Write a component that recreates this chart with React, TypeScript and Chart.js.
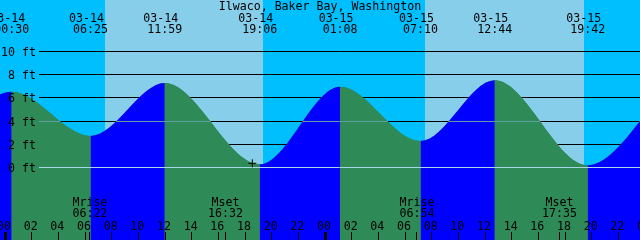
import React, { useEffect, useRef } from "react";
import { Chart, registerables } from "chart.js";
Chart.register(...registerables);

// Hours counted from 03-14 00:00
const tideHours = [-5.67, 0.5, 6.417, 11.983, 19.1, 25.133, 31.167, 36.733, 43.7, 49.75];
const tideFeet = [0.45, 6.53, 2.72, 7.28, 0.28, 6.97, 2.28, 7.52, 0.19, 6.9];

const eventHours = [0.5, 6.417, 11.983, 19.1, 25.133, 31.167, 36.733, 43.7];
const eventDates = ["03-14", "03-14", "03-14", "03-14", "03-15", "03-15", "03-15", "03-15"];
const eventTimes = ["00:30", "06:25", "11:59", "19:06", "01:08", "07:10", "12:44", "19:42"];

const sunriseHours = [7.5, 31.5];
const sunsetHours = [19.35, 43.43];

const moonHours = [6.367, 16.533, 30.9, 41.583];
const moonNames = ["Mrise", "Mset", "Mrise", "Mset"];
const moonTimes = ["06:22", "16:32", "06:54", "17:35"];

const hourTicks = [0, 2, 4, 6, 8, 10, 12, 14, 16, 18, 20, 22, 24, 26, 28, 30, 32, 34, 36, 38, 40, 42, 44, 46, 48];
const hourLabels = ["00", "02", "04", "06", "08", "10", "12", "14", "16", "18", "20", "22", "00", "02", "04", "06", "08", "10", "12", "14", "16", "18", "20", "22", "00"];
const dayStartHours = [0, 24, 48];

const feetTicks = [0, 2, 4, 6, 8, 10];
const feetLabels = ["0 ft", "2 ft", "4 ft", "6 ft", "8 ft", "10 ft"];
const datumFeet = [0, 4];
const datumColors = ["#a8d8e8", "#5f9ea0"];

const nowHour = [18.55];
const nowFeet = [0.36];

const title = "Ilwaco, Baker Bay, Washington";

const NIGHT = "#00bfff";
const DAY = "#87ceeb";
const RISE = "#0000ff";
const FALL = "#2e8b57";
const FONT = "11.6px 'DejaVu Sans Mono', monospace";

function curvePath(ctx: CanvasRenderingContext2D, pts: any[], edgeY: number) {
  ctx.beginPath();
  ctx.moveTo(pts[0].x, pts[0].y);
  for (let i = 1; i < pts.length; i++) {
    const p = pts[i - 1], c = pts[i];
    ctx.bezierCurveTo(p.cp2x, p.cp2y, c.cp1x, c.cp1y, c.x, c.y);
  }
  ctx.lineTo(pts[pts.length - 1].x, edgeY);
  ctx.lineTo(pts[0].x, edgeY);
  ctx.closePath();
}

const bgPlugin = {
  id: "bg",
  beforeDatasetsDraw(chart: any) {
    const { ctx, chartArea, scales } = chart;
    const x = scales.x, y = scales.y;
    const pts = chart.getDatasetMeta(1).data;
    ctx.save();
    ctx.fillStyle = NIGHT;
    ctx.fillRect(chartArea.left, chartArea.top, chartArea.right - chartArea.left, chartArea.bottom - chartArea.top);
    ctx.fillStyle = DAY;
    sunriseHours.forEach((h, i) => {
      const a = Math.round(x.getPixelForValue(h));
      const b = Math.round(x.getPixelForValue(sunsetHours[i]));
      ctx.fillRect(a, chartArea.top, b - a, chartArea.bottom - chartArea.top);
    });
    // base under the water, hides seams between fill segments
    ctx.save();
    curvePath(ctx, pts, chartArea.bottom + 10);
    ctx.fillStyle = FALL;
    ctx.fill();
    ctx.restore();
    // grid lines only in the sky
    ctx.save();
    curvePath(ctx, pts, chartArea.top - 10);
    ctx.clip();
    ctx.strokeStyle = "#000";
    ctx.lineWidth = 1;
    feetTicks.forEach((f) => {
      const py = Math.floor(y.getPixelForValue(f)) + 0.5;
      ctx.beginPath();
      ctx.moveTo(39, py);
      ctx.lineTo(chartArea.right, py);
      ctx.stroke();
    });
    ctx.restore();
    ctx.restore();
  },
};

const overlayPlugin = {
  id: "overlay",
  afterDatasetDraw(chart: any, args: any) {
    if (args.index !== 1) return;
    const { ctx, chartArea, scales } = chart;
    const pts = args.meta.data;
    ctx.save();
    curvePath(ctx, pts, chartArea.bottom + 10);
    ctx.clip();
    ctx.lineWidth = 1;
    datumFeet.forEach((f, i) => {
      const py = Math.floor(scales.y.getPixelForValue(f)) + 0.5;
      ctx.strokeStyle = datumColors[i];
      ctx.beginPath();
      ctx.moveTo(39, py);
      ctx.lineTo(chartArea.right, py);
      ctx.stroke();
    });
    ctx.restore();
  },
  afterDatasetsDraw(chart: any) {
    const { ctx, chartArea, scales } = chart;
    const x = scales.x, y = scales.y;
    ctx.save();
    ctx.fillStyle = "#000";
    ctx.font = FONT;
    ctx.textBaseline = "alphabetic";
    ctx.textAlign = "center";
    ctx.fillText(title, (chartArea.left + chartArea.right) / 2, 9.5);
    eventHours.forEach((h, i) => {
      const px = x.getPixelForValue(h);
      ctx.fillText(eventDates[i], px - 4, 21.5);
      ctx.fillText(eventTimes[i], px, 33.3);
    });
    moonHours.forEach((h, i) => {
      const px = x.getPixelForValue(h);
      ctx.fillText(moonNames[i], px, 205.5);
      ctx.fillText(moonTimes[i], px, 216.5);
    });
    hourTicks.forEach((h, i) => {
      const px = x.getPixelForValue(h);
      ctx.fillText(hourLabels[i], px - 1, 229.5);
    });
    ctx.textAlign = "right";
    feetTicks.forEach((f, i) => {
      const py = Math.floor(y.getPixelForValue(f)) + 0.5;
      ctx.fillText(feetLabels[i], 36, py + 4.2);
    });
    ctx.strokeStyle = "#000";
    ctx.lineWidth = 1;
    const tickH = [...hourTicks, ...moonHours];
    tickH.forEach((h) => {
      const px = Math.floor(x.getPixelForValue(h)) + 0.5;
      ctx.beginPath();
      ctx.moveTo(px, 232);
      ctx.lineTo(px, chartArea.bottom);
      ctx.stroke();
    });
    dayStartHours.forEach((h) => {
      const px = Math.round(x.getPixelForValue(h));
      ctx.fillRect(px - 1, 232, 3, chartArea.bottom - 232);
    });
    ctx.restore();
  },
};

export default function App() {
  const ref = useRef<HTMLCanvasElement | null>(null);
  useEffect(() => {
    document.body.style.margin = "0";
    const canvas = ref.current!;
    const chart = new Chart(canvas, {
      type: "line",
      data: {
        datasets: [
          {
            type: "scatter",
            data: nowHour.map((h, i) => ({ x: h, y: nowFeet[i] })),
            pointStyle: "cross",
            pointRadius: 4,
            borderColor: "#000",
            backgroundColor: "#000",
            borderWidth: 1,
            order: 0,
          } as any,
          {
            data: tideHours.map((h, i) => ({ x: h, y: tideFeet[i] })),
            fill: "start",
            cubicInterpolationMode: "monotone",
            borderWidth: 0,
            borderColor: "rgba(0,0,0,0)",
            backgroundColor: RISE,
            pointRadius: 0,
            order: 1,
            segment: {
              backgroundColor: (c: any) => (c.p1.parsed.y > c.p0.parsed.y ? RISE : FALL),
            },
          } as any,
        ],
      },
      options: {
        responsive: false,
        maintainAspectRatio: false,
        animation: false,
        events: [],
        layout: { padding: 0, autoPadding: false },
        scales: {
          x: { type: "linear", min: -0.375, max: 47.625, display: false },
          y: { type: "linear", min: -6.25, max: 14.44, display: false },
        },
        plugins: { legend: { display: false }, tooltip: { enabled: false }, title: { display: false } },
      },
      plugins: [bgPlugin, overlayPlugin],
    });
    return () => chart.destroy();
  }, []);
  return (
    <canvas
      ref={ref}
      width={640}
      height={240}
      style={{ display: "block", position: "fixed", left: 0, top: 0, width: 640, height: 240 }}
    />
  );
}
